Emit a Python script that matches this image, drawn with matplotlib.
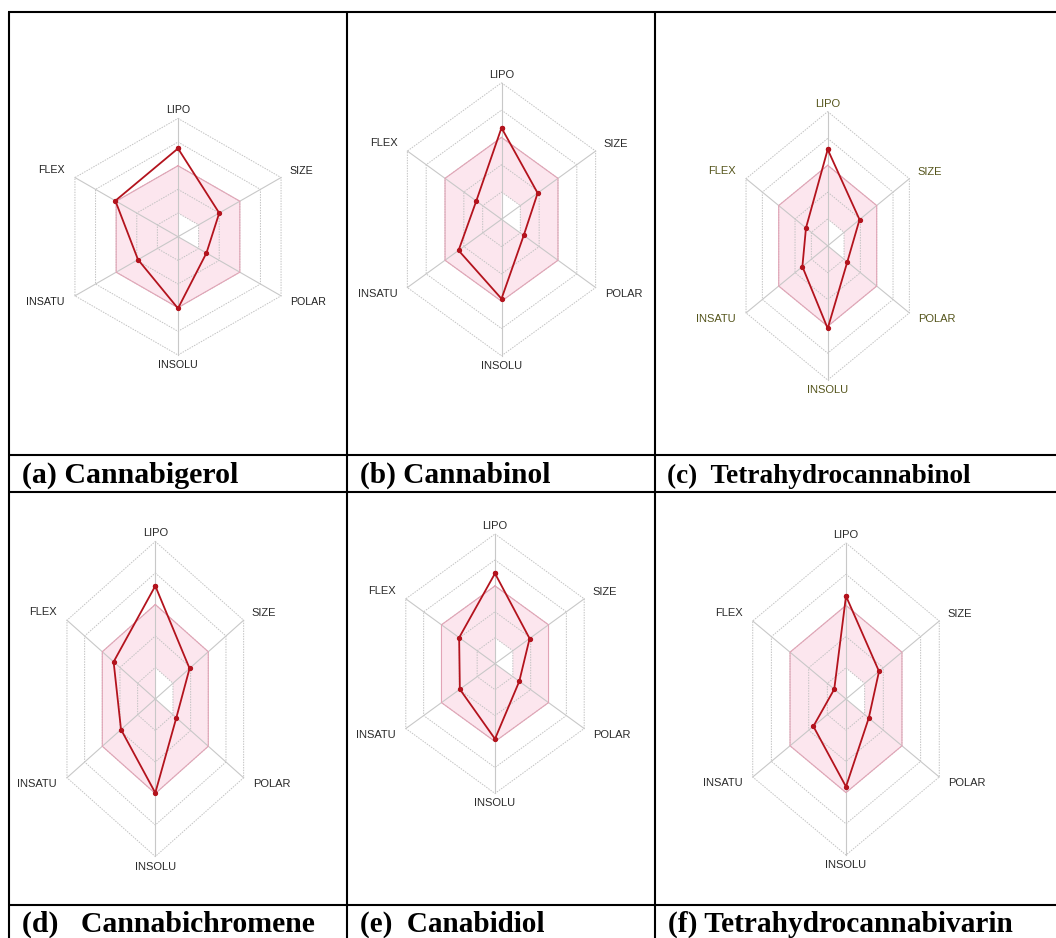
import numpy as np
import matplotlib
matplotlib.use('Agg')
import matplotlib.pyplot as plt
from matplotlib import font_manager
from matplotlib.patches import PathPatch
from matplotlib.path import Path

W, H = 1056, 938

# radar axes (clockwise from top)
spokes = ['LIPO', 'SIZE', 'POLAR', 'INSOLU', 'INSATU', 'FLEX']

captions = ['(a) Cannabigerol', '(b) Cannabinol', '(c)  Tetrahydrocannabinol',
            '(d)   Cannabichromene', '(e)  Canabidiol', '(f) Tetrahydrocannabivarin']

cannabigerol = [3.73, 2.00, 1.38, 3.03, 1.94, 3.04]
cannabinol = [3.35, 1.92, 1.18, 2.91, 2.28, 1.34]
thc = [3.59, 1.95, 1.20, 3.08, 1.55, 1.33]
cannabichromene = [3.59, 1.94, 1.19, 2.98, 1.94, 2.36]
canabidiol = [3.48, 1.94, 1.36, 2.90, 1.97, 2.01]
thcv = [3.30, 1.77, 1.22, 2.81, 1.75, 0.63]

# pink "optimal" zone limits
pink_outer = [3, 3, 3, 3, 3, 3]
pink_inner = [1, 1, 1, 0, 0, 0]

rings = [1, 2, 3, 4, 5]

# layout: cell box (x0, y0, x1, y1), centre (px), horizontal / vertical radius (px)
panels = [
    dict(vals=cannabigerol, cell=(9, 12, 347, 455), c=(178, 236.7), rx=119, ry=118.3, cap=(22, 483), cs=21.5),
    dict(vals=cannabinol, cell=(347, 12, 655, 455), c=(501.5, 219.3), rx=108.7, ry=136.5, cap=(360, 483), cs=21.2),
    dict(vals=thc, cell=(655, 12, 1056, 455), c=(827.7, 245.8), rx=94.3, ry=134.2, cap=(667, 483), cs=19.6),
    dict(vals=cannabichromene, cell=(9, 492, 347, 905), c=(155.3, 699), rx=102, ry=157.5, cap=(22, 932), cs=21.4),
    dict(vals=canabidiol, cell=(347, 492, 655, 905), c=(495, 663.7), rx=103, ry=129.7, cap=(360, 932), cs=21),
    dict(vals=thcv, cell=(655, 492, 1056, 905), c=(846, 699), rx=107.7, ry=156, cap=(668, 932), cs=21.2),
]
label_colors = ['#222222', '#2b2b2b', '#55551c', '#2b2b2b', '#2b2b2b', '#2b2b2b']

names = {f.name for f in font_manager.fontManager.ttflist}
narrow = 'Liberation Sans Narrow' if 'Liberation Sans Narrow' in names else 'Liberation Sans'
narrow_size = 8.8 if narrow != 'Liberation Sans' else 8.0

# label placement relative to outer vertex (pixels)
lab_pos = {
    'LIPO': ((0, 3), 'center', 'bottom'),
    'SIZE': ((8, 7), 'left', 'center'),
    'POLAR': ((9, -6), 'left', 'center'),
    'INSOLU': ((0, -5), 'center', 'top'),
    'INSATU': ((-10, -6), 'right', 'center'),
    'FLEX': ((-10, 8), 'right', 'center'),
}

ang = np.arange(6) * np.pi / 3
ux, uy = np.sin(ang), np.cos(ang)


def closed(r):
    r = np.asarray(r, dtype=float)
    x, y = r * ux, r * uy
    return np.append(x, x[0]), np.append(y, y[0])


def draw_radar(ax, vals, lab_color, font, fsize):
    # pink zone with hole
    ox, oy = closed(pink_outer)
    ix, iy = closed(pink_inner)
    verts = np.vstack([np.column_stack([ox, oy]), np.column_stack([ix[::-1], iy[::-1]])])
    codes = [Path.MOVETO] + [Path.LINETO] * 5 + [Path.CLOSEPOLY]
    codes = codes + codes
    ax.add_patch(PathPatch(Path(verts, codes), facecolor='#fce6ee', edgecolor='none', zorder=1))

    for k in rings:
        gx, gy = closed([k] * 6)
        ax.plot(gx, gy, color='#c2c2c2', lw=0.7, ls=(0, (1.5, 1.2)), zorder=2)
    for i in range(6):
        ax.plot([0, 5 * ux[i]], [0, 5 * uy[i]], color='#c8c8c8', lw=0.8, zorder=2)

    ax.plot(ox, oy, color='#e2a4b6', lw=0.8, zorder=3)

    vx, vy = closed(vals)
    ax.plot(vx, vy, color='#b3131d', lw=1.3, marker='o', ms=2.8, zorder=4)

    for i, name in enumerate(spokes):
        off, ha, va = lab_pos[name]
        ax.annotate(name, (5 * ux[i], 5 * uy[i]), xytext=off, textcoords='offset pixels',
                    ha=ha, va=va, fontsize=fsize, family=font, color=lab_color)


fig = plt.figure(figsize=(W / 100, H / 100), dpi=100)

bg = fig.add_axes([0, 0, 1, 1])
bg.set_xlim(0, W)
bg.set_ylim(H, 0)
bg.axis('off')

lw_tab = 1.5
for y in [12, 455, 492, 905]:
    bg.plot([8, W], [y, y], color='black', lw=lw_tab, solid_capstyle='butt')
for x in [9, 347, 655]:
    bg.plot([x, x], [12, H], color='black', lw=lw_tab, solid_capstyle='butt')

for i, p in enumerate(panels):
    x0, y0, x1, y1 = p['cell']
    cx, cy = p['c']
    sx, sy = p['rx'] / 5, p['ry'] / 5
    ax = fig.add_axes([x0 / W, 1 - y1 / H, (x1 - x0) / W, (y1 - y0) / H])
    ax.set_xlim((x0 - cx) / sx, (x1 - cx) / sx)
    ax.set_ylim((cy - y1) / sy, (cy - y0) / sy)
    ax.axis('off')
    if i == 0:
        draw_radar(ax, p['vals'], label_colors[i], 'Liberation Sans', 7.7)
    else:
        draw_radar(ax, p['vals'], label_colors[i], narrow, narrow_size)

    tx, ty = p['cap']
    bg.text(tx, ty, captions[i], family='Liberation Serif', weight='bold', fontsize=p['cs'],
            ha='left', va='baseline', color='black')

plt.savefig('out.png', dpi=100)
